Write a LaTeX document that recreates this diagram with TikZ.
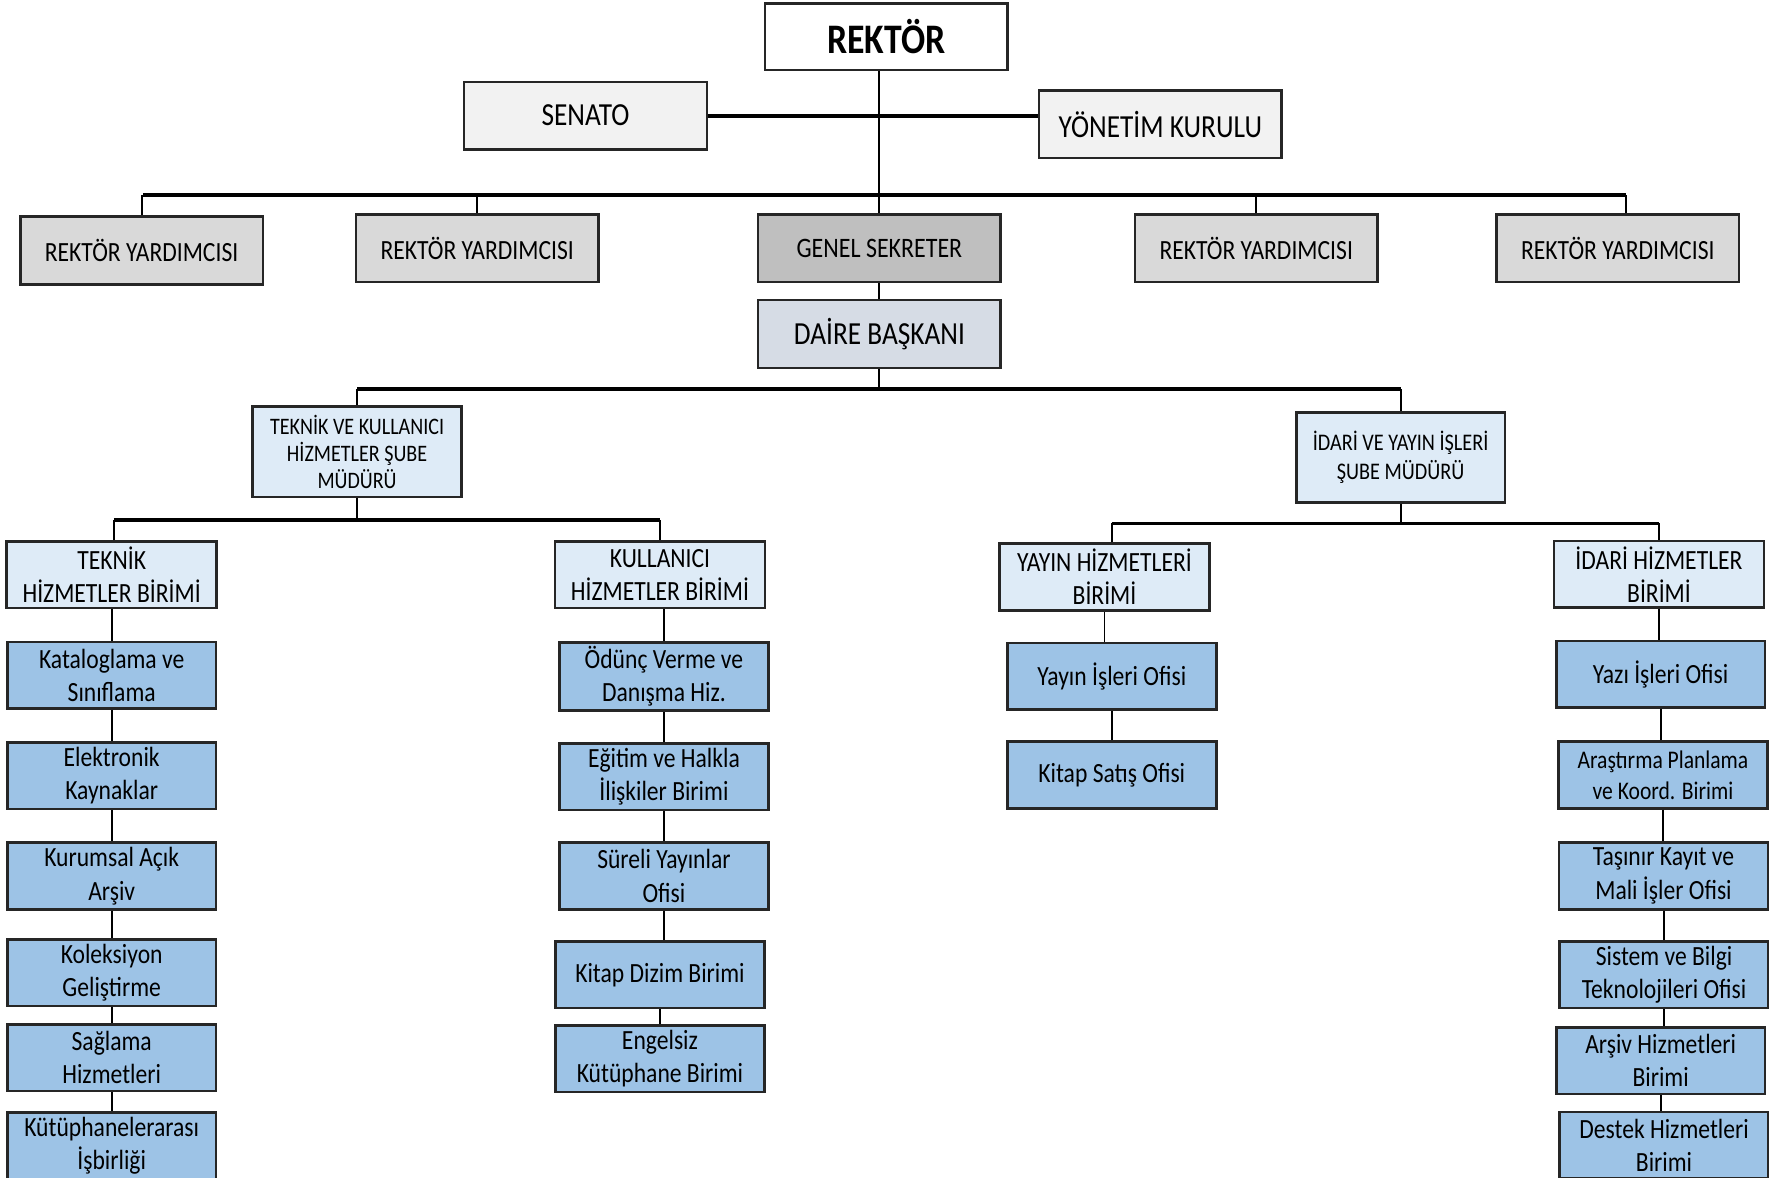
\documentclass[tikz,border=0pt]{standalone}
\usepackage{fontspec}
\setmainfont{Carlito}[FakeStretch=0.85]
\usepackage{tikz}
\definecolor{boardgray}{HTML}{F2F2F2}
\definecolor{vicegray}{HTML}{D9D9D9}
\definecolor{secgray}{HTML}{BFBFBF}
\definecolor{headblue}{HTML}{D6DCE5}
\definecolor{paleblue}{HTML}{DEEBF7}
\definecolor{unitblue}{HTML}{9DC3E6}
\tikzstyle{orgbox} = [rectangle, draw=black!85, line width=0.65pt, inner sep=1pt, align=center]
\tikzstyle{topbox} = [orgbox, minimum width=2.15cm, minimum height=0.59cm, fill=white, font=\bfseries\fontsize{10.6}{12}\selectfont]
\tikzstyle{boardbox} = [orgbox, minimum width=2.15cm, minimum height=0.6cm, fill=boardgray, font=\fontsize{8.1}{9.5}\selectfont]
\tikzstyle{vicebox} = [orgbox, minimum width=2.15cm, minimum height=0.6cm, fill=vicegray, font=\fontsize{7}{8}\selectfont]
\tikzstyle{secbox} = [vicebox, fill=secgray, font=\fontsize{7.1}{8}\selectfont]
\tikzstyle{headbox} = [boardbox, fill=headblue]
\tikzstyle{branchbox} = [orgbox, minimum width=1.85cm, minimum height=0.8cm, fill=paleblue, font=\fontsize{5.95}{6.8}\selectfont]
\tikzstyle{groupbox} = [orgbox, minimum width=1.86cm, minimum height=0.59cm, fill=paleblue, font=\fontsize{7}{8.3}\selectfont]
\tikzstyle{unitbox} = [orgbox, minimum width=1.85cm, minimum height=0.59cm, fill=unitblue, font=\fontsize{7}{8.4}\selectfont]
\tikzstyle{bar} = [line width=0.95pt]
\tikzstyle{link} = [line width=0.5pt]
\begin{document}
\begin{tikzpicture}[x=0.01cm, y=-0.01cm]
    \useasboundingbox (0,0) rectangle (1568,1044);
    \fill[white] (0,0) rectangle (1568,1044);
    \clip (0,0) rectangle (1568,1044);

    \node (rektor) [topbox] at (785.5,32.5) {REKTÖR};
    \node (senato) [boardbox] at (519,102.5) {SENATO};
    \node (yonetim) [boardbox] at (1028.5,110) {YÖNETİM KURULU};
    \node (ry1) [vicebox] at (125.5,222) {REKTÖR YARDIMCISI};
    \node (ry2) [vicebox] at (423,220) {REKTÖR YARDIMCISI};
    \node (gs) [secbox] at (779.5,220) {GENEL SEKRETER};
    \node (ry3) [vicebox] at (1113.5,220) {REKTÖR YARDIMCISI};
    \node (ry4) [vicebox] at (1434,220) {REKTÖR YARDIMCISI};
    \node (db) [headbox] at (779.5,296) {DAİRE BAŞKANI};

    \node (tkh) [branchbox] at (316.5,400.5) {TEKNİK VE KULLANICI\\HİZMETLER ŞUBE\\MÜDÜRÜ};
    \node (iyi) [branchbox, font=\fontsize{6}{7.4}\selectfont] at (1241.5,405.5) {İDARİ VE YAYIN İŞLERİ\\ŞUBE MÜDÜRÜ};

    \node (th) [groupbox] at (99,509.5) {TEKNİK\\HİZMETLER BİRİMİ};
    \node (kh) [groupbox] at (585,509.5) {KULLANICI\\HİZMETLER BİRİMİ};
    \node (yh) [groupbox] at (979,511.5) {YAYIN HİZMETLERİ\\BİRİMİ};
    \node (ih) [groupbox] at (1470.5,509) {İDARİ HİZMETLER\\BİRİMİ};

    \node (kat) [unitbox] at (99,598.5) {Kataloglama ve\\Sınıflama};
    \node (elk) [unitbox] at (99,687.5) {Elektronik\\Kaynaklar};
    \node (kur) [unitbox] at (99,776.5) {Kurumsal Açık\\Arşiv};
    \node (kol) [unitbox] at (99,862) {Koleksiyon\\Geliştirme};
    \node (sag) [unitbox] at (99,937.5) {Sağlama\\Hizmetleri};
    \node (kut) [unitbox] at (99,1015.5) {Kütüphanelerarası\\İşbirliği};

    \node (odunc) [unitbox] at (588.5,599.5) {Ödünç Verme ve\\Danışma Hiz.};
    \node (egitim) [unitbox] at (588.5,688.5) {Eğitim ve Halkla\\İlişkiler Birimi};
    \node (sureli) [unitbox] at (588.5,776.5) {Süreli Yayınlar\\Ofisi};
    \node (dizim) [unitbox] at (585,864) {Kitap Dizim Birimi};
    \node (engel) [unitbox] at (585,938.5) {Engelsiz\\Kütüphane Birimi};

    \node (yayin) [unitbox] at (985.5,599.5) {Yayın İşleri Ofisi};
    \node (satis) [unitbox] at (985.5,687) {Kitap Satış Ofisi};

    \node (yazi) [unitbox] at (1472,597.5) {Yazı İşleri Ofisi};
    \node (aras) [unitbox, font=\fontsize{6.4}{7.8}\selectfont] at (1474,687) {Araştırma Planlama\\ve Koord. Birimi};
    \node (tasinir) [unitbox] at (1474.5,776.5) {Taşınır Kayıt ve\\Mali İşler Ofisi};
    \node (sistem) [unitbox] at (1475,864) {Sistem ve Bilgi\\Teknolojileri Ofisi};
    \node (arsiv) [unitbox] at (1472,940) {Arşiv Hizmetleri\\Birimi};
    \node (destek) [unitbox] at (1475,1015) {Destek Hizmetleri\\Birimi};

    \coordinate (rbar) at (779,173);
    \coordinate (dbar) at (780,345);
    \coordinate (tbar) at (317,461);
    \coordinate (ibar) at (1242,464);

    \draw [link] (rektor.south -| gs.north) -- (gs.north);
    \draw [bar] (senato.east) -- (senato.east -| yonetim.west);
    \draw [bar] ([xshift=0.015cm]ry1.north |- rbar) -- ([xshift=0.07cm]ry4.north |- rbar);
    \foreach \n in {ry1,ry2,ry3}
        \draw [link] (\n.north) -- (\n.north |- rbar);
    \draw [link] ([xshift=0.07cm]ry4.north) -- ([xshift=0.07cm]ry4.north |- rbar);
    \draw [link] (gs) -- (db);

    \draw [link] (db.south) -- (db.south |- dbar);
    \draw [bar] (tkh.north |- dbar) -- (iyi.north |- dbar);
    \draw [link] (tkh.north) -- (tkh.north |- dbar);
    \draw [link] (iyi.north) -- (iyi.north |- dbar);

    \draw [link] (tkh.south) -- (tkh.south |- tbar);
    \draw [bar] ([xshift=0.02cm]th.north |- tbar) -- (kh.north |- tbar);
    \draw [link] ([xshift=0.02cm]th.north) -- ([xshift=0.02cm]th.north |- tbar);
    \draw [link] (kh.north) -- (kh.north |- tbar);

    \draw [link] (iyi.south) -- (iyi.south |- ibar);
    \draw [bar] (yayin.north |- ibar) -- (ih.north |- ibar);
    \draw [link] (yh.north -| yayin.north) -- (yayin.north |- ibar);
    \draw [link] (ih.north) -- (ih.north |- ibar);

    \foreach \a/\b in {th/kat, kat/elk, elk/kur, kur/kol, kol/sag, sag/kut,
                       odunc/egitim, egitim/sureli, sureli/dizim, dizim/engel,
                       yh/yayin, yayin/satis,
                       ih/yazi, yazi/aras, aras/tasinir, tasinir/sistem, sistem/arsiv, arsiv/destek}
        \draw [link] (\a.south) -- (\a.south |- \b.north);
    \draw [link] (kh.south -| odunc.north) -- (odunc.north);
\end{tikzpicture}
\end{document}
